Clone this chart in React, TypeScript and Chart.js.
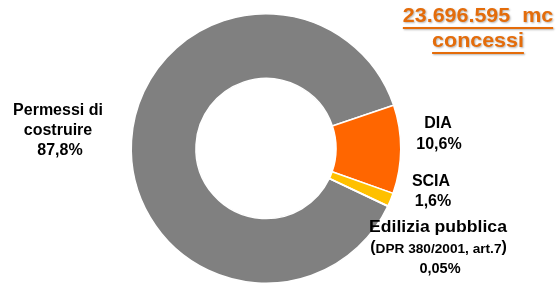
import React, { useEffect, useRef } from "react";
import { Chart, registerables } from "chart.js";

Chart.register(...registerables);

const categories = ["Permessi di costruire", "DIA", "SCIA", "Edilizia pubblica"];
const shares = [87.8, 10.6, 1.6, 0.05];
const shareLabels = ["87,8%", "10,6%", "1,6%", "0,05%"];
const sliceColors = ["#808080", "#FF6600", "#FFC000", "#8EA9DB"];
const titleLines = ["23.696.595  mc", "concessi"];

const FONT = '"Liberation Sans", Arial, sans-serif';

function scaledText(ctx: CanvasRenderingContext2D, text: string, cx: number, cy: number, sx: number) {
  ctx.save();
  ctx.translate(cx, cy);
  ctx.scale(sx, 1);
  ctx.fillText(text, 0, 0);
  ctx.restore();
}

const labelPlugin = {
  id: "labelPlugin",
  afterDraw(chart: any) {
    const ctx = chart.ctx as CanvasRenderingContext2D;
    ctx.save();
    ctx.fillStyle = "#000";
    ctx.textAlign = "center";
    ctx.textBaseline = "middle";
    const bold = (s: number) => `bold ${s}px ${FONT}`;

    // Permessi di costruire
    ctx.font = bold(16);
    ctx.fillText("Permessi di", 58, 111);
    ctx.fillText("costruire", 58, 131);
    ctx.fillText(shareLabels[0], 60, 151);

    // DIA
    ctx.fillText(categories[1], 438, 124);
    ctx.fillText(shareLabels[1], 439, 145);

    // SCIA
    ctx.fillText(categories[2], 431, 182);
    ctx.fillText(shareLabels[2], 433, 202);

    // Edilizia pubblica
    scaledText(ctx, categories[3], 438, 228, 1.1);
    // (DPR 380/2001, art.7) with larger parentheses
    const mid = "DPR 380/2001, art.7";
    ctx.font = bold(13);
    const wMid = ctx.measureText(mid).width * 1.05;
    ctx.font = bold(16);
    const wP = ctx.measureText("(").width;
    const total = wMid + 2 * wP;
    let x = 438.5 - total / 2;
    ctx.textAlign = "left";
    ctx.fillText("(", x, 248);
    x += wP;
    ctx.font = bold(13);
    ctx.save();
    ctx.translate(x, 249);
    ctx.scale(1.05, 1);
    ctx.fillText(mid, 0, 0);
    ctx.restore();
    x += wMid;
    ctx.font = bold(16);
    ctx.fillText(")", x, 248);
    ctx.textAlign = "center";
    ctx.font = bold(14.5);
    ctx.fillText(shareLabels[3], 440, 269);

    // Title
    ctx.font = bold(19.5);
    ctx.fillStyle = "#E46C0A";
    ctx.shadowColor = "rgba(0,0,0,0.3)";
    ctx.shadowOffsetX = 1;
    ctx.shadowOffsetY = 1;
    ctx.shadowBlur = 2;
    const ty = [17, 42];
    const tx = 478;
    const sx = 1.1;
    titleLines.forEach((t, i) => {
      scaledText(ctx, t, tx, ty[i], sx);
      const w = ctx.measureText(t).width * sx;
      ctx.fillRect(tx - w / 2, ty[i] + 10, w, 2);
    });
    ctx.restore();
  },
};

export default function App() {
  const ref = useRef<HTMLCanvasElement>(null);
  useEffect(() => {
    document.body.style.margin = "0";
    const sum = shares.reduce((a, b) => a + b, 0);
    const diaStart = 71.3; // degrees clockwise from top where DIA begins
    const rotation = diaStart - (shares[0] / sum) * 360;
    const chart = new Chart(ref.current!, {
      type: "doughnut",
      data: {
        labels: categories,
        datasets: [
          {
            data: shares,
            backgroundColor: sliceColors,
            borderColor: "#ffffff",
            borderWidth: 1.5,
          },
        ],
      },
      options: {
        responsive: false,
        animation: false,
        cutout: "52%",
        rotation,
        layout: { padding: { left: 130, right: 154, top: 13, bottom: 2 } },
        plugins: { legend: { display: false }, tooltip: { enabled: false } },
      },
      plugins: [labelPlugin],
    });
    return () => chart.destroy();
  }, []);
  return (
    <div style={{ position: "absolute", left: 0, top: 0, width: 556, height: 286, background: "#fff" }}>
      <canvas ref={ref} width={556} height={286} style={{ display: "block" }} />
    </div>
  );
}
